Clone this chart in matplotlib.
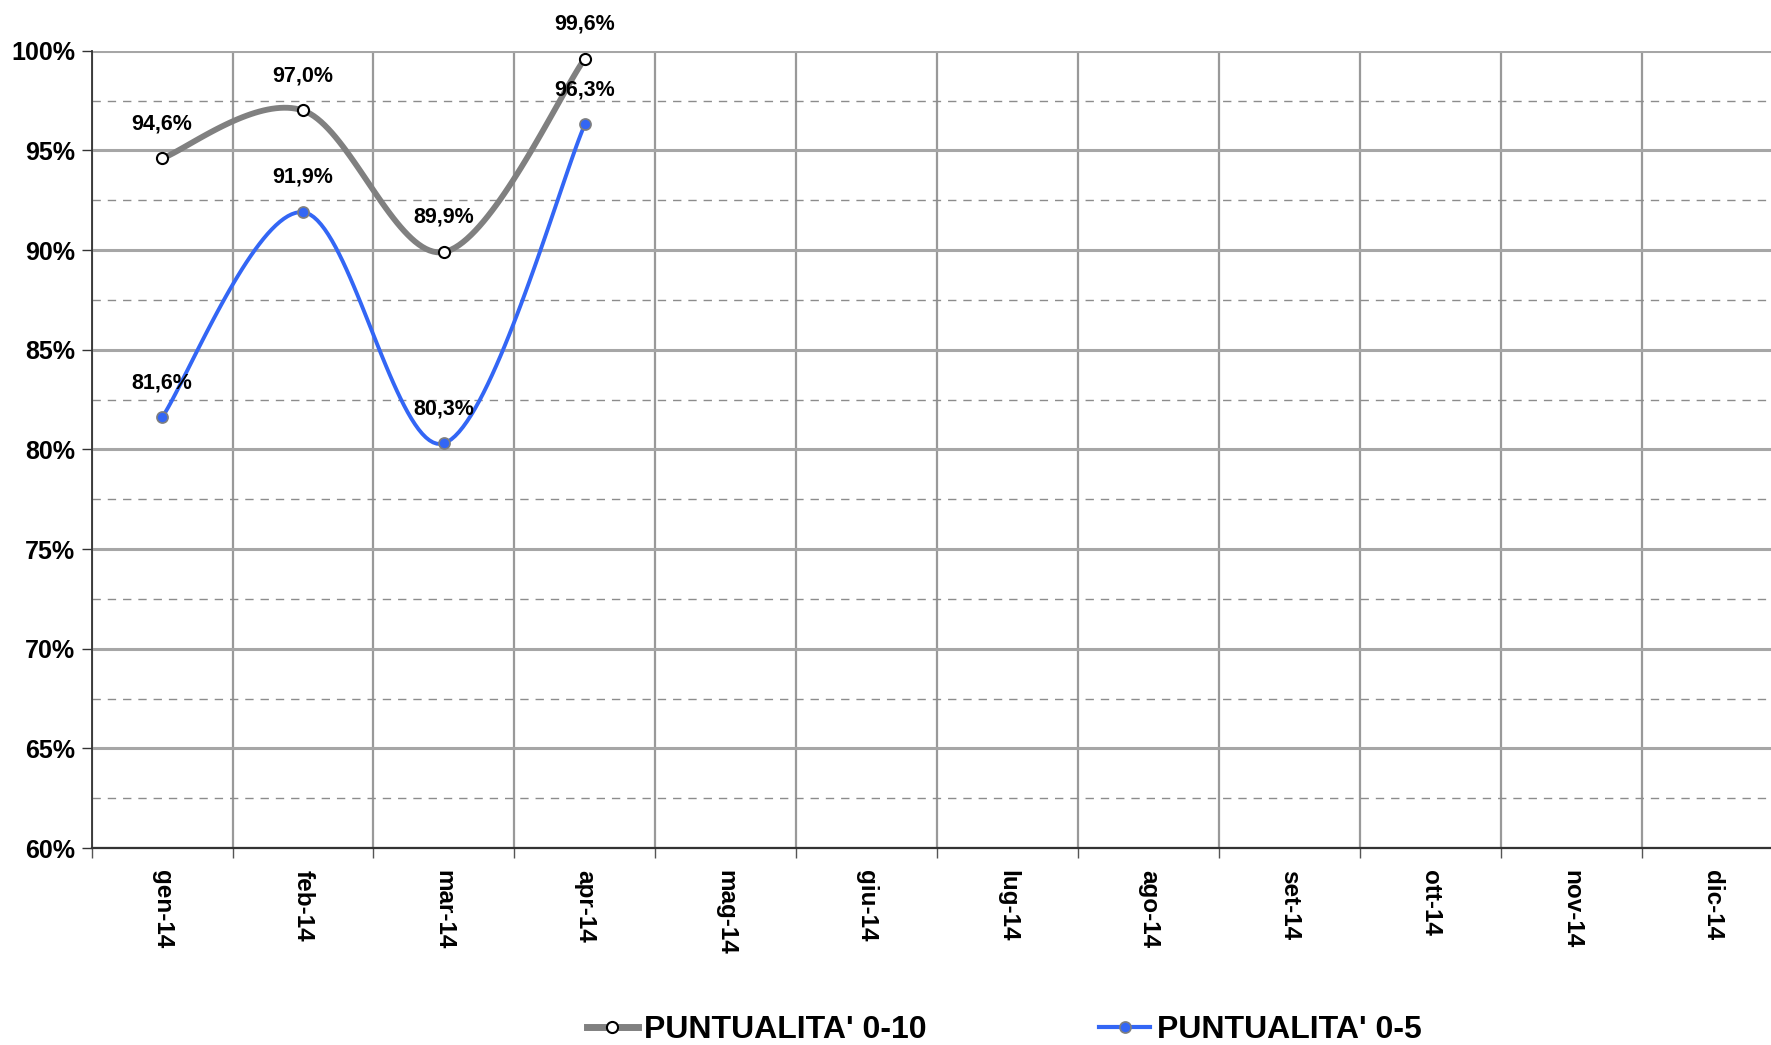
#!/usr/bin/env python3

import numpy as np
import matplotlib
matplotlib.use("Agg")
import matplotlib.pyplot as plt
from matplotlib.ticker import FixedLocator, NullFormatter
from matplotlib.lines import Line2D

# Dati del grafico
mesi = ["gen-14", "feb-14", "mar-14", "apr-14", "mag-14", "giu-14",
        "lug-14", "ago-14", "set-14", "ott-14", "nov-14", "dic-14"]
punt_0_10 = [94.6, 97.0, 89.9, 99.6]
punt_0_5 = [81.6, 91.9, 80.3, 96.3]
etichette_0_10 = ["94,6%", "97,0%", "89,9%", "99,6%"]
etichette_0_5 = ["81,6%", "91,9%", "80,3%", "96,3%"]

plt.rcParams['font.family'] = ['Liberation Sans', 'DejaVu Sans']


def smooth(xs, ys, n=40):
    """Curva smussata stile Excel (Bezier con tangenti Catmull-Rom)."""
    p = np.column_stack([xs, ys]).astype(float)
    m = len(p)
    out = [p[0:1]]
    for i in range(m - 1):
        p_prev = p[i - 1] if i > 0 else p[i]
        p_next = p[i + 2] if i + 2 < m else p[i + 1]
        c1 = p[i] + (p[i + 1] - p_prev) / 6.0
        c2 = p[i + 1] - (p_next - p[i]) / 6.0
        t = np.linspace(0, 1, n)[1:, None]
        seg = ((1 - t) ** 3 * p[i] + 3 * (1 - t) ** 2 * t * c1
               + 3 * (1 - t) * t ** 2 * c2 + t ** 3 * p[i + 1])
        out.append(seg)
    pts = np.vstack(out)
    return pts[:, 0], pts[:, 1]


fig = plt.figure(figsize=(17.71, 10.45), dpi=100)
ax = fig.add_axes([0.0517, 0.1885, 0.955, 0.763])

x = np.arange(len(punt_0_10))
grigio = '#808080'
blu = '#3366F5'

# Linee smussate
sx, sy = smooth(x, punt_0_10)
ax.plot(sx, sy, color=grigio, lw=4.2, solid_capstyle='round', zorder=4)
ax.plot(x, punt_0_10, ls='none', marker='o', ms=8, mfc='white', mec='black',
        mew=1.5, zorder=5)
sx, sy = smooth(x, punt_0_5)
ax.plot(sx, sy, color=blu, lw=2.8, zorder=4)
ax.plot(x, punt_0_5, ls='none', marker='o', ms=8, mfc=blu, mec='#7f7f7f',
        mew=1.2, zorder=5)

# Etichette dei valori
for xi, yi, lab in zip(x, punt_0_10, etichette_0_10):
    ax.annotate(lab, (xi, yi), xytext=(0, 25), textcoords='offset points',
                ha='center', va='center', fontsize=15.5, fontweight='bold',
                zorder=6)
for xi, yi, lab in zip(x, punt_0_5, etichette_0_5):
    ax.annotate(lab, (xi, yi), xytext=(0, 25), textcoords='offset points',
                ha='center', va='center', fontsize=15.5, fontweight='bold',
                zorder=6)

# Assi
ax.set_xlim(-0.5, len(mesi) - 0.5)
ax.set_ylim(60, 100)

ax.xaxis.set_major_locator(FixedLocator(np.arange(len(mesi) + 1) - 0.5))
ax.xaxis.set_major_formatter(NullFormatter())
ax.xaxis.set_minor_locator(FixedLocator(np.arange(len(mesi))))
ax.set_xticklabels(mesi, minor=True, rotation=270, fontsize=17.5,
                   fontweight='bold')
ax.tick_params(axis='x', which='major', length=7, width=1, color='#555555')
ax.tick_params(axis='x', which='minor', length=0, pad=16)

ax.set_yticks(np.arange(60, 101, 5))
ax.set_yticklabels([f"{v}%" for v in range(60, 101, 5)], fontsize=18,
                   fontweight='bold')
ax.set_yticks(np.arange(62.5, 100, 5), minor=True)
ax.tick_params(axis='y', which='major', length=7, width=1, color='#333333', pad=5)
ax.tick_params(axis='y', which='minor', length=0)

# Griglia
ax.grid(axis='y', which='major', color='#a6a6a6', lw=2.2, zorder=1)
ax.grid(axis='y', which='minor', color='#8c8c8c', lw=1, ls=(0, (6, 5)), zorder=1)
ax.grid(axis='x', which='major', color='#999999', lw=1.6, zorder=1)
ax.set_axisbelow(True)

for s in ['top', 'right']:
    ax.spines[s].set_visible(False)
ax.spines['left'].set_color('#333333')
ax.spines['bottom'].set_color('#333333')
ax.spines['left'].set_linewidth(1.3)
ax.spines['bottom'].set_linewidth(1.6)

# Legenda
h1 = Line2D([], [], color=grigio, lw=5, marker='o', ms=8, mfc='white',
            mec='black', mew=1.5)
h2 = Line2D([], [], color=blu, lw=3, marker='o', ms=8, mfc=blu,
            mec='#7f7f7f', mew=1.2)
fig.legend([h1, h2], ["PUNTUALITA' 0-10", "PUNTUALITA' 0-5"],
           loc='center', bbox_to_anchor=(0.567, 0.0144), ncol=2,
           frameon=False, handlelength=1.6, handletextpad=0.2,
           columnspacing=5.4, prop={'size': 23, 'weight': 'bold'})

plt.savefig('out.png', dpi=100)
